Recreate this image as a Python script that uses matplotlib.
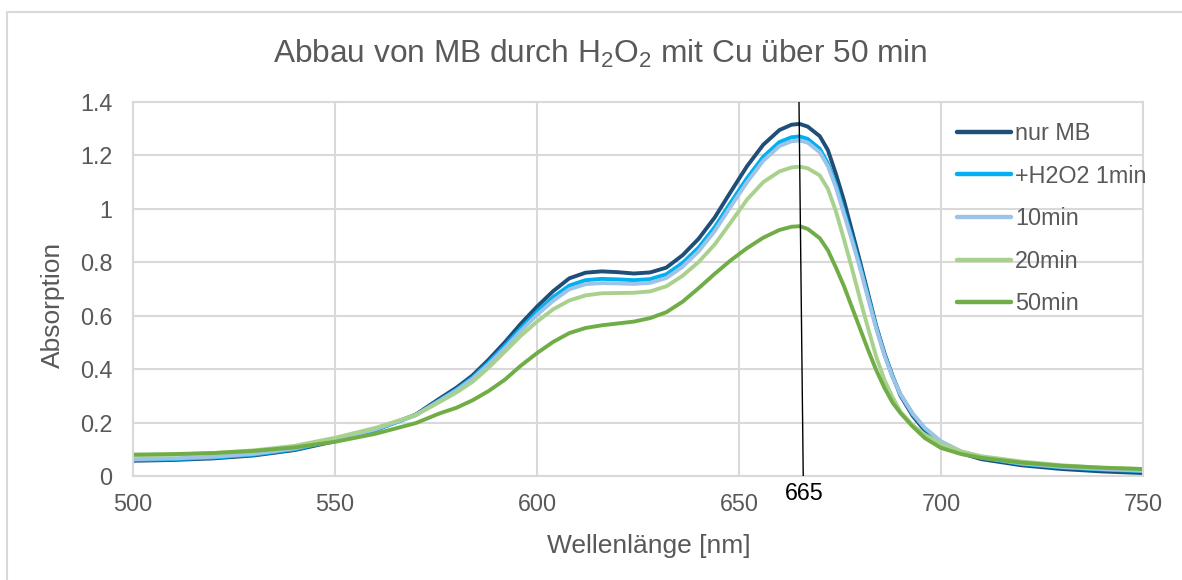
import matplotlib
matplotlib.use("Agg")
import matplotlib.pyplot as plt
from matplotlib.patches import Rectangle

plt.rcParams['font.family'] = ['Liberation Sans', 'DejaVu Sans']
plt.rcParams['mathtext.fontset'] = 'custom'
plt.rcParams['mathtext.rm'] = 'Liberation Sans'

# wavelength grid [nm]
wl = [500, 510, 520, 530, 540, 550, 560, 570, 576, 580, 584, 588, 592, 596,
      600, 604, 608, 612, 616, 620, 624, 628, 632, 636, 640, 644, 648, 652,
      656, 660, 663, 665, 667, 670, 672, 674, 676, 678, 680, 682, 684, 686,
      688, 690, 693, 696, 700, 705, 710, 720, 730, 740, 750]

nur_mb = [0.057, 0.060, 0.066, 0.077, 0.097, 0.130, 0.172, 0.230, 0.291, 0.330,
          0.376, 0.435, 0.500, 0.570, 0.634, 0.692, 0.740, 0.761, 0.766, 0.763,
          0.758, 0.762, 0.780, 0.826, 0.888, 0.968, 1.065, 1.160, 1.240, 1.295,
          1.315, 1.318, 1.308, 1.272, 1.220, 1.130, 1.030, 0.915, 0.800, 0.680,
          0.560, 0.460, 0.375, 0.300, 0.225, 0.170, 0.120, 0.085, 0.063, 0.040,
          0.026, 0.017, 0.011]

h2o2_1min = [0.060, 0.063, 0.069, 0.080, 0.100, 0.133, 0.172, 0.228, 0.285, 0.323,
             0.368, 0.425, 0.487, 0.553, 0.615, 0.670, 0.713, 0.733, 0.738, 0.736,
             0.733, 0.737, 0.755, 0.797, 0.855, 0.932, 1.025, 1.115, 1.195, 1.250,
             1.268, 1.271, 1.262, 1.225, 1.170, 1.090, 0.990, 0.890, 0.785, 0.670,
             0.555, 0.455, 0.372, 0.305, 0.232, 0.178, 0.128, 0.090, 0.068, 0.045,
             0.032, 0.024, 0.018]

min10 = [0.063, 0.066, 0.072, 0.083, 0.103, 0.136, 0.175, 0.228, 0.283, 0.320,
         0.363, 0.418, 0.478, 0.543, 0.603, 0.656, 0.699, 0.718, 0.722, 0.721,
         0.719, 0.723, 0.741, 0.783, 0.841, 0.917, 1.010, 1.100, 1.180, 1.235,
         1.253, 1.256, 1.248, 1.212, 1.160, 1.080, 0.980, 0.880, 0.775, 0.662,
         0.550, 0.452, 0.370, 0.305, 0.233, 0.180, 0.130, 0.092, 0.070, 0.047,
         0.034, 0.026, 0.020]

min20 = [0.078, 0.080, 0.086, 0.096, 0.113, 0.143, 0.180, 0.228, 0.278, 0.312,
         0.352, 0.405, 0.465, 0.525, 0.578, 0.624, 0.657, 0.676, 0.684, 0.685,
         0.686, 0.691, 0.710, 0.749, 0.801, 0.867, 0.950, 1.035, 1.100, 1.140,
         1.155, 1.158, 1.152, 1.125, 1.075, 0.990, 0.885, 0.775, 0.660, 0.550,
         0.445, 0.360, 0.295, 0.240, 0.190, 0.155, 0.120, 0.092, 0.074, 0.054,
         0.040, 0.031, 0.026]

min50 = [0.080, 0.082, 0.086, 0.094, 0.107, 0.128, 0.158, 0.198, 0.235, 0.255,
         0.283, 0.318, 0.360, 0.413, 0.460, 0.502, 0.535, 0.554, 0.564, 0.571,
         0.578, 0.591, 0.613, 0.652, 0.703, 0.757, 0.808, 0.853, 0.892, 0.921,
         0.933, 0.935, 0.925, 0.890, 0.845, 0.780, 0.710, 0.630, 0.550, 0.470,
         0.395, 0.330, 0.275, 0.235, 0.185, 0.142, 0.105, 0.082, 0.068, 0.050,
         0.038, 0.031, 0.026]

series = [
    ('nur MB', nur_mb, '#1f4e79'),
    ('+H2O2 1min', h2o2_1min, '#00b0f0'),
    ('10min', min10, '#9dc3e6'),
    ('20min', min20, '#a9d18e'),
    ('50min', min50, '#70ad47'),
]

# hand drawn marker line at 665 nm
marker_x = [664.85, 665.9]
marker_y = [1.4, 0.0]
marker_label = '665'

grey = '#595959'
grid_c = '#d9d9d9'

fig = plt.figure(figsize=(11.82, 5.80), dpi=100)
fig.patches.append(Rectangle((7 / 1182, -0.05), 1.1, 1 - 12 / 580 + 0.05,
                             transform=fig.transFigure, fill=False,
                             edgecolor=grid_c, lw=1.5))

ax = fig.add_axes([133 / 1182, 1 - 476 / 580, 1010 / 1182, 374 / 580])

for name, vals, col in series:
    ax.plot(wl, vals, color=col, lw=2.8, label=name, solid_capstyle='round',
            solid_joinstyle='round')

ax.plot(marker_x, marker_y, color='black', lw=1.0, zorder=5)
ax.text(666.1, -0.064, marker_label, ha='center', va='center',
        fontsize=16.8, color='black')

ax.set_xlim(500, 750)
ax.set_ylim(0, 1.4)
ax.set_xticks([500, 550, 600, 650, 700, 750])
ax.set_yticks([0, 0.2, 0.4, 0.6, 0.8, 1, 1.2, 1.4])
ax.set_yticklabels(['0', '0.2', '0.4', '0.6', '0.8', '1', '1.2', '1.4'])
ax.grid(True, color=grid_c, lw=1.5)
ax.set_axisbelow(True)
for s in ax.spines.values():
    s.set_color(grid_c)
    s.set_linewidth(1.5)
ax.tick_params(axis='both', length=0, labelsize=16.8, labelcolor=grey)
ax.tick_params(axis='x', pad=12)
ax.tick_params(axis='y', pad=15)

fig.text(600 / 1182, 1 - 63 / 580,
         r'Abbau von MB durch H$_\mathregular{2}$O$_\mathregular{2}$ mit Cu über 50 min',
         ha='center', va='baseline', fontsize=22.8, color=grey)
fig.text(649 / 1182, 1 - 546 / 580, 'Wellenlänge [nm]', ha='center', va='center',
         fontsize=19, color=grey)
fig.text(53 / 1182, 1 - 305 / 580, 'Absorption', ha='center', va='center',
         rotation=90, fontsize=19, color=grey)

leg = ax.legend(loc='upper left', bbox_to_anchor=(957 / 1182, 1 - 122 / 580),
                bbox_transform=fig.transFigure, frameon=False, fontsize=16.8,
                handlelength=2.3, handletextpad=0.2, labelspacing=0.84,
                borderpad=0, borderaxespad=0)
for t in leg.get_texts():
    t.set_color(grey)
for h in leg.get_lines():
    h.set_linewidth(3.2)

fig.savefig('out.png', dpi=100)
